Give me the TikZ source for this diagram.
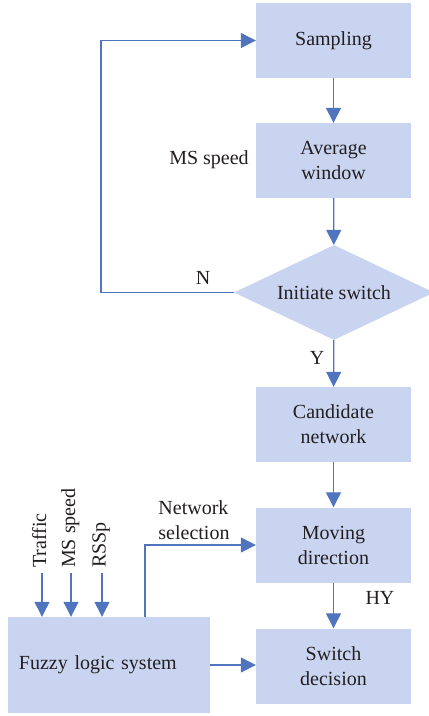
\documentclass[tikz,border=0pt]{standalone}
\usepackage{fontspec}
\setmainfont{Liberation Serif}
\usetikzlibrary{shapes.geometric,arrows.meta,calc}
\definecolor{boxfill}{HTML}{C9D4F1}
\definecolor{linecol}{HTML}{5074BE}
\definecolor{txt}{HTML}{231F20}
\begin{document}
\begin{tikzpicture}[x=1pt,y=-1pt,
  every node/.style={text=txt,font=\fontsize{20}{25}\selectfont},
  box/.style={fill=boxfill,draw=none,minimum width=155pt,minimum height=75pt,inner sep=0pt,align=center},
  dia/.style={diamond,fill=boxfill,draw=none,minimum width=200pt,minimum height=95pt,inner sep=0pt,aspect=2.1},
  arr/.style={draw=linecol,line width=1.3pt,-{Triangle[length=15pt,width=15pt]}},
  ln/.style={draw=linecol,line width=1.3pt},
  lab/.style={inner sep=0pt}]
\clip (0,0) rectangle (429,716);
\fill[white] (0,0) rectangle (429,716);
% nodes
\node[box] (samp) at (333.5,40.5) {Sampling};
\node[box] (avg) at (333.5,160.5) {Average\\window};
\node[dia] (init) at (334,292.5) {Initiate switch};
\node[box] (cand) at (333.5,424.5) {Candidate\\network};
\node[box] (mov) at (333.5,545) {Moving\\direction};
\node[box] (sw) at (333.5,666) {Switch\\decision};
\node[fill=boxfill,minimum width=202pt,minimum height=96pt,text width=180pt,inner xsep=11pt,inner ysep=0pt,align=left] (fuzzy) at (109,665) {Fuzzy logic system};
% labels
\node[lab] (msl) at (209,160) {MS speed};
\node[lab] (nl) at (203,278) {N};
\node[lab] (yl) at (317,358) {Y};
\node[lab] (hyl) at (380,598) {HY};
\node[lab,align=left] (nsl) at (194,520) {Network\\selection};
% input labels
\node[lab,rotate=90,anchor=base west] (tl) at (46,568) {Traffic};
\node[lab,rotate=90,anchor=base west] (ml) at (75,568) {MS speed};
\node[lab,rotate=90,anchor=base west] (rl) at (105.5,568) {RSSp};
\coordinate (t1) at (42,573);
\coordinate (m1) at (71,573);
\coordinate (r1) at (102,573);
\coordinate (loopc) at (101,292.5);
\coordinate (nsc) at (145,617);
% connectors
\draw[arr] (samp) -- (avg);
\draw[arr] (avg) -- (init);
\draw[arr] (init) -- (cand);
\draw[arr] (cand) -- (mov);
\draw[arr] (mov) -- (sw);
\draw[arr] (init.west) -- (loopc) |- (samp.west);
\draw[arr] (t1) -- (t1 |- fuzzy.north);
\draw[arr] (m1) -- (m1 |- fuzzy.north);
\draw[arr] (r1) -- (r1 |- fuzzy.north);
\draw[arr] (nsc) |- (mov.west);
\draw[arr] (fuzzy.east) -- (fuzzy.east -| sw.west);
\end{tikzpicture}
\end{document}
